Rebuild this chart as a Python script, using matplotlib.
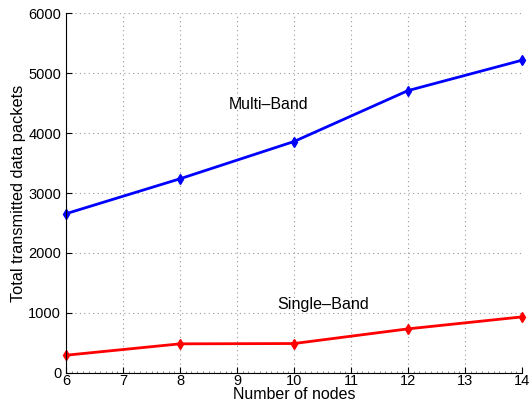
import matplotlib.pyplot as plt
from matplotlib.ticker import MultipleLocator

plt.rcParams['font.family'] = ['Liberation Sans', 'DejaVu Sans']

nodes = [6, 8, 10, 12, 14]
multi_band = [2655, 3238, 3860, 4710, 5217]
single_band = [293, 483, 488, 733, 933]

fig = plt.figure(figsize=(5.29, 4.03), dpi=100)
ax = fig.add_axes([0.1248, 0.0750, 0.862, 0.8920])

ax.plot(nodes, multi_band, color='blue', marker='d', markersize=5, linewidth=2, clip_on=False)
ax.plot(nodes, single_band, color='red', marker='d', markersize=5, linewidth=2, clip_on=False)

ax.text(8.86, 4470, 'Multi\u2013Band', fontsize=11.4, va='center')
ax.text(9.70, 1140, 'Single\u2013Band', fontsize=11.6, va='center')

ax.set_xlim(6, 14)
ax.set_ylim(0, 6000)
ax.xaxis.set_major_locator(MultipleLocator(1))
ax.xaxis.set_minor_locator(MultipleLocator(0.1))
ax.yaxis.set_major_locator(MultipleLocator(1000))
ax.tick_params(direction='in', labelsize=10.5, length=4, width=0.8)
ax.tick_params(axis='x', which='minor', direction='in', length=1.5, width=0.5, color='#555555')
ax.tick_params(axis='x', pad=1)

ax.grid(True, which='major', linestyle=(0, (1, 3)), color='#999999', linewidth=0.8)
ax.spines['top'].set_visible(False)
ax.spines['right'].set_visible(False)

ax.set_xlabel('Number of nodes', fontsize=11.5, labelpad=-1)
ax.set_ylabel('Total transmitted data packets', fontsize=11.8, labelpad=2)

fig.savefig('out.png', dpi=100)
